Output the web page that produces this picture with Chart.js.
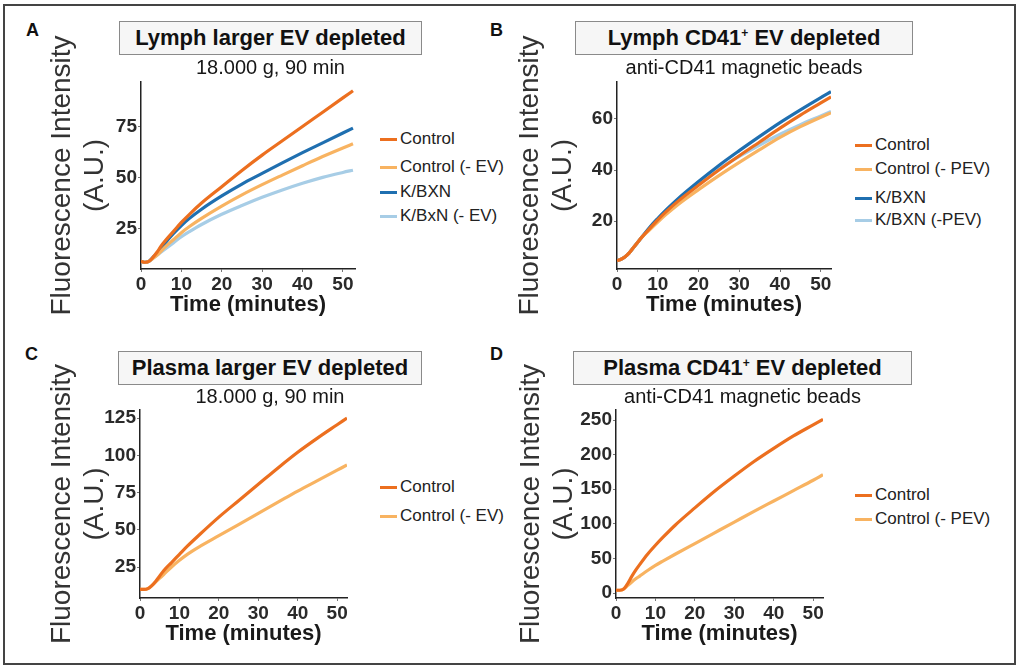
<!DOCTYPE html>
<html>
<head>
<meta charset="utf-8">
<script src="https://cdn.jsdelivr.net/npm/chart.js@4.4.1/dist/chart.umd.min.js"></script>
<style>
  body { margin: 0; background: #fff; font-family: "Liberation Sans", Arial, sans-serif; }
  #fig { position: relative; width: 1021px; height: 669px; overflow: hidden; background: #fff; }
  #frame { position: absolute; left: 3px; top: 4px; width: 1009px; height: 657px; border: 2px solid #444; }
  canvas { position: absolute; }
  .letter { position: absolute; font-weight: bold; font-size: 18px; color: #111; }
  .tbox { position: absolute; box-sizing: border-box; border: 1.5px solid #8a8a8a; background: #f6f6f6;
          font-weight: bold; font-size: 22px; color: #111; text-align: center; z-index: 2; }
  .tbox sup { font-size: 12px; vertical-align: 8px; line-height: 0; }
  .sub { position: absolute; font-size: 20px; color: #161616; text-align: center; line-height: 22px; z-index: 2; }
  .legline { position: absolute; width: 17px; height: 3px; }
  .legtxt { position: absolute; font-size: 17px; color: #222; line-height: 20px; white-space: nowrap; }
</style>
</head>
<body>
<div id="fig"><div id="frame"></div></div>
<script>
// time points (minutes)
const timeMin = [0, 1, 2, 3, 4, 5, 6, 8, 10, 12, 15, 20, 25, 30, 35, 40, 45, 50, 52.5];

// A - lymph, larger EV depleted
const lymphEvControl        = [9, 8.5, 9, 11, 13.5, 16.5, 19, 23.5, 28, 32, 37.5, 45.5, 53.5, 61, 68, 75, 82, 89, 92.5];
const lymphEvControlMinusEv = [9, 8.5, 9, 10.5, 12, 14, 16, 19.5, 23, 26, 30, 36, 41.5, 46.5, 51.2, 55.8, 60.3, 64.5, 66.5];
const lymphEvKbxn           = [9, 8.5, 9, 11, 13, 15.5, 18, 22.5, 26.5, 30, 34.5, 41, 46.8, 52, 57.2, 62.2, 67, 71.8, 74.2];
const lymphEvKbxnMinusEv    = [9, 8.5, 9, 10.5, 12, 13.5, 15, 18, 21, 23.5, 27, 32, 36.3, 40.3, 43.9, 47.2, 50.1, 52.5, 53.6];

// B - lymph, CD41+ EV depleted
const lymphCd41Control         = [4.5, 5, 6, 7.5, 9.5, 11.5, 13.5, 17, 20.5, 23.6, 27.8, 34, 40, 45.6, 51, 56.4, 61.5, 66.3, 68.7];
const lymphCd41ControlMinusPev = [4.5, 5, 6, 7.5, 9.5, 11.5, 13.5, 16.5, 19.6, 22.5, 26.5, 32.3, 37.8, 43, 48, 52.8, 57, 60.7, 62.4];
const lymphCd41Kbxn            = [4.5, 5, 6, 7.5, 9.5, 11.5, 13.5, 17.5, 21, 24.3, 28.8, 35.5, 41.8, 47.6, 53.2, 58.6, 63.6, 68.4, 70.7];
const lymphCd41KbxnMinusPev    = [4.5, 5, 6, 7.5, 9.5, 11.5, 13.5, 17.5, 21, 24.2, 28.6, 34.8, 40.4, 45.3, 49.8, 54, 57.8, 61.2, 62.9];

// C - plasma, larger EV depleted
const plasmaEvControl        = [10, 10, 10.5, 12.5, 15.5, 19, 22.5, 28, 33.5, 39, 46.5, 58.5, 69.5, 80.5, 91.5, 102, 111.5, 120.5, 125];
const plasmaEvControlMinusEv = [10, 10, 10.5, 12.5, 15, 17.5, 20, 25, 29.5, 33.5, 38.5, 46, 53.5, 61, 68.5, 76, 83, 90, 93.5];

// D - plasma, CD41+ EV depleted
const plasmaCd41Control         = [4, 4, 6, 14, 24, 33, 41, 56, 69, 81, 98, 123, 147, 169, 190, 209, 227, 243, 251];
const plasmaCd41ControlMinusPev = [4, 4, 6, 11, 16, 20.5, 24.5, 32.5, 40, 46.5, 56, 71.5, 87, 102.5, 118, 133, 148, 163, 171];

// tick labels
const xTicks  = [0, 10, 20, 30, 40, 50];
const yTicksA = [25, 50, 75];
const yTicksB = [20, 40, 60];
const yTicksC = [25, 50, 75, 100, 125];
const yTicksD = [0, 50, 100, 150, 200, 250];

// legend labels
const legendA = ['Control', 'Control (- EV)', 'K/BXN', 'K/BxN (- EV)'];
const legendB = ['Control', 'Control (- PEV)', 'K/BXN', 'K/BXN (-PEV)'];
const legendC = ['Control', 'Control (- EV)'];
const legendD = ['Control', 'Control (- PEV)'];

const DARK_OR = '#ec6f1f', LIGHT_OR = '#f8b361', DARK_BL = '#1f6fb0', LIGHT_BL = '#a7cde6';
const FONT = '"Liberation Sans", Arial, sans-serif';
const fig = document.getElementById('fig');

function addDiv(cls, html, css) {
    let d = document.createElement('div');
    d.className = cls;
    d.innerHTML = html;
    Object.assign(d.style, css);
    fig.appendChild(d);
    return d;
}

function makePanel(p) {
    addDiv('letter', p.letter, {left: p.letterX + 'px', top: p.letterY + 'px'});
    addDiv('tbox', p.title, {left: p.box[0] + 'px', top: p.box[1] + 'px', width: p.box[2] + 'px',
        height: p.box[3] + 'px', lineHeight: (p.box[3] - 3) + 'px'});
    addDiv('sub', p.subtitle, {left: (p.box[0] - 30) + 'px', width: (p.box[2] + 60) + 'px', top: p.subY + 'px'});

    // legend drawn as html beside the plot
    p.labels.forEach((lab, i) => {
        addDiv('legline', '', {left: p.legX + 'px', top: (p.legY[i] - 1.5) + 'px', background: p.colors[i]});
        addDiv('legtxt', lab, {left: (p.legX + 20) + 'px', top: (p.legY[i] - 10) + 'px'});
    });

    let cv = document.createElement('canvas');
    cv.width = p.w;
    cv.height = p.h;
    cv.style.left = p.x + 'px';
    cv.style.top = p.y + 'px';
    fig.appendChild(cv);

    new Chart(cv.getContext('2d'), {
        type: 'line',
        data: {
            datasets: p.series.map((s, i) => ({
                label: p.labels[i],
                data: timeMin.map((t, k) => ({x: t, y: s[k]})),
                borderColor: p.colors[i],
                borderWidth: 3.2,
                pointRadius: 0,
                fill: false,
                cubicInterpolationMode: 'monotone'
            }))
        },
        options: {
            responsive: false,
            animation: false,
            devicePixelRatio: 1,
            layout: {padding: {top: p.padTop, right: 10, bottom: 6, left: 0}},
            plugins: {legend: {display: false}, tooltip: {enabled: false}},
            scales: {
                x: {
                    type: 'linear', min: 0, max: p.xMax,
                    afterBuildTicks: (s) => { s.ticks = xTicks.map(v => ({value: v})); },
                    afterFit: (s) => { s.height = 55; },
                    grid: {drawOnChartArea: false, drawTicks: true, tickLength: 3, color: '#777'},
                    border: {display: true, color: '#222', width: 1.5},
                    ticks: {autoSkip: false, maxRotation: 0, padding: 1, color: '#2a2a2a',
                        font: {family: FONT, size: 19, weight: 'bold'}},
                    title: {display: true, text: 'Time (minutes)', color: '#1a1a1a',
                        font: {family: FONT, size: 22, weight: 'bold'}, padding: {top: 0, bottom: 6}}
                },
                y: {
                    type: 'linear', min: p.yMin, max: p.yMax,
                    afterBuildTicks: (s) => { s.ticks = p.yTicks.map(v => ({value: v})); },
                    afterFit: (s) => { s.width = p.yWidth; },
                    grid: {drawOnChartArea: false, drawTicks: true, tickLength: 3, color: '#777'},
                    border: {display: true, color: '#222', width: 1.5},
                    ticks: {autoSkip: false, padding: 1, color: '#2a2a2a',
                        font: {family: FONT, size: 19, weight: 'bold'}},
                    title: {display: true, text: ['Fluorescence Intensity', '(A.U.)'], color: '#333',
                        font: {family: FONT, size: 28, weight: 'normal', lineHeight: 1.18},
                        padding: {top: p.ytPad, bottom: 0}}
                }
            }
        }
    });
}

makePanel({
    letter: 'A', letterX: 26, letterY: 20,
    title: 'Lymph larger EV depleted', box: [119, 21, 303, 34], subtitle: '18.000 g, 90 min', subY: 56,
    x: 20, y: 10, w: 345, h: 320, yWidth: 121, padTop: 72, ytPad: 25.5,
    xMax: 53, yMin: 5.2, yMax: 96.8, yTicks: yTicksA,
    series: [lymphEvControl, lymphEvControlMinusEv, lymphEvKbxn, lymphEvKbxnMinusEv],
    labels: legendA, colors: [DARK_OR, LIGHT_OR, DARK_BL, LIGHT_BL],
    legX: 380, legY: [139, 167, 192, 216]
});

makePanel({
    letter: 'B', letterX: 490, letterY: 20,
    title: 'Lymph CD41<sup>+</sup> EV depleted', box: [575, 21, 338, 34], subtitle: 'anti-CD41 magnetic beads', subY: 56,
    x: 495, y: 10, w: 346, h: 320, yWidth: 122, padTop: 72, ytPad: 18.5,
    xMax: 52.5, yMin: 1.2, yMax: 74.5, yTicks: yTicksB,
    series: [lymphCd41Control, lymphCd41ControlMinusPev, lymphCd41Kbxn, lymphCd41KbxnMinusPev],
    labels: legendB, colors: [DARK_OR, LIGHT_OR, DARK_BL, LIGHT_BL],
    legX: 855, legY: [145, 169, 198, 220]
});

makePanel({
    letter: 'C', letterX: 25, letterY: 344,
    title: 'Plasma larger EV depleted', box: [118, 351, 304, 34], subtitle: '18.000 g, 90 min', subY: 385,
    x: 20, y: 330, w: 337, h: 329, yWidth: 120, padTop: 80, ytPad: 25.5,
    xMax: 52.5, yMin: 4.2, yMax: 130.4, yTicks: yTicksC,
    series: [plasmaEvControl, plasmaEvControlMinusEv],
    labels: legendC, colors: [DARK_OR, LIGHT_OR],
    legX: 380, legY: [487, 516]
});

makePanel({
    letter: 'D', letterX: 490, letterY: 344,
    title: 'Plasma CD41<sup>+</sup> EV depleted', box: [573, 351, 339, 34], subtitle: 'anti-CD41 magnetic beads', subY: 385,
    x: 495, y: 330, w: 338, h: 329, yWidth: 121, padTop: 80, ytPad: 19.5,
    xMax: 52.5, yMin: -7.2, yMax: 264.5, yTicks: yTicksD,
    series: [plasmaCd41Control, plasmaCd41ControlMinusPev],
    labels: legendD, colors: [DARK_OR, LIGHT_OR],
    legX: 855, legY: [495, 519]
});
</script>
</body>
</html>
